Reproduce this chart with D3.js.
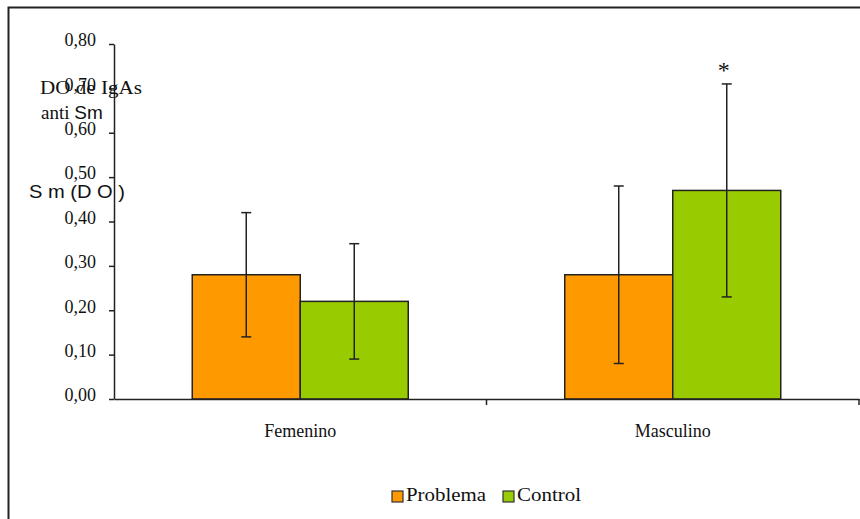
<!DOCTYPE html>
<html>
<head>
<meta charset="utf-8">
<script src="https://cdn.jsdelivr.net/npm/d3@7"></script>
<style>
  body { margin: 0; background: #fff; }
  svg { display: block; }
</style>
</head>
<body>
<svg id="chart" width="860" height="519"></svg>
<script>
const categories = ["Femenino", "Masculino"];
const series = ["Problema", "Control"];
const problemaValues = [0.28, 0.28];
const problemaErrors = [0.14, 0.20];
const controlValues = [0.22, 0.47];
const controlErrors = [0.13, 0.24];
const yTicks = [0, 0.1, 0.2, 0.3, 0.4, 0.5, 0.6, 0.7, 0.8];
const colors = { Problema: "#FF9900", Control: "#99CC00" };

const data = categories.map((c, i) => ({
  category: c,
  values: [
    { series: "Problema", value: problemaValues[i], err: problemaErrors[i] },
    { series: "Control", value: controlValues[i], err: controlErrors[i] }
  ]
}));

const svg = d3.select("#chart");
const SERIF = '"Liberation Serif", "Times New Roman", serif';
const SANS = '"Liberation Sans", Arial, sans-serif';

// outer frame (only top and left visible)
svg.append("rect")
  .attr("x", 8.5).attr("y", 7.5)
  .attr("width", 900).attr("height", 600)
  .attr("fill", "none").attr("stroke", "#222").attr("stroke-width", 2);

const plotLeft = 114, plotRight = 859, plotTop = 44, plotBottom = 399;

const y = d3.scaleLinear().domain([0, 0.8]).range([plotBottom, plotTop]);
const x0 = d3.scaleBand().domain(categories).range([plotLeft, plotRight]).padding(0);
const x1 = d3.scaleBand().domain(series).range([0, x0.bandwidth()])
  .paddingInner(0).paddingOuter(0.7245);

const fmt = v => d3.format(".2f")(v).replace(".", ",");

// y axis
const yAxis = d3.axisLeft(y).tickValues(yTicks).tickFormat(fmt).tickSize(5).tickSizeOuter(0);
const gy = svg.append("g").attr("transform", `translate(${plotLeft},0)`).call(yAxis);
gy.attr("font-family", null).attr("font-size", null);
gy.select(".domain").attr("stroke", "#222").attr("stroke-width", 1.5);
gy.selectAll(".tick line").attr("stroke", "#222").attr("stroke-width", 1.5);
gy.selectAll(".tick text")
  .style("font-family", SERIF).style("font-size", "18px")
  .attr("fill", "#111").attr("x", -18).attr("dy", "0.1em");

// bars
const groups = svg.append("g").selectAll("g").data(data).join("g")
  .attr("transform", d => `translate(${x0(d.category)},0)`);

groups.selectAll("rect").data(d => d.values).join("rect")
  .attr("x", d => x1(d.series))
  .attr("y", d => y(d.value))
  .attr("width", x1.bandwidth())
  .attr("height", d => y(0) - y(d.value))
  .attr("fill", d => colors[d.series])
  .attr("stroke", "#222").attr("stroke-width", 1.5);

// error bars
const eb = groups.selectAll("g.err").data(d => d.values).join("g").attr("class", "err")
  .attr("stroke", "#222").attr("stroke-width", 1.5);
const cx = d => x1(d.series) + x1.bandwidth() / 2;
eb.append("line")
  .attr("x1", cx).attr("x2", cx)
  .attr("y1", d => y(d.value + d.err))
  .attr("y2", d => y(d.value - d.err));
eb.append("line")
  .attr("x1", d => cx(d) - 5).attr("x2", d => cx(d) + 5)
  .attr("y1", d => y(d.value + d.err))
  .attr("y2", d => y(d.value + d.err));
eb.append("line")
  .attr("x1", d => cx(d) - 5).attr("x2", d => cx(d) + 5)
  .attr("y1", d => y(d.value - d.err))
  .attr("y2", d => y(d.value - d.err));

// x axis
const xAxis = d3.axisBottom(x0).tickSize(0).tickSizeOuter(0);
const gx = svg.append("g").attr("transform", `translate(0,${plotBottom})`).call(xAxis);
gx.attr("font-family", null).attr("font-size", null);
gx.select(".domain").attr("stroke", "#222").attr("stroke-width", 1.5);
gx.selectAll(".tick text")
  .style("font-family", SERIF).style("font-size", "18px")
  .attr("fill", "#111").attr("y", 38).attr("dy", 0);
// category separator ticks
const sepPositions = categories.map(c => x0(c) + x0.bandwidth());
svg.append("g").selectAll("line").data(sepPositions).join("line")
  .attr("x1", d => d).attr("x2", d => d)
  .attr("y1", plotBottom).attr("y2", plotBottom + 6)
  .attr("stroke", "#222").attr("stroke-width", 1.5);

// significance asterisk
const mascCtrl = data[1].values[1];
svg.append("text")
  .attr("x", x0("Masculino") + x1("Control") + x1.bandwidth() / 2 - 3)
  .attr("y", y(mascCtrl.value + mascCtrl.err) - 6)
  .attr("text-anchor", "middle")
  .style("font-family", SERIF).style("font-size", "24px")
  .attr("fill", "#111").text("*");

// overlapping axis title texts (as in the original)
svg.append("text").attr("x", 40).attr("y", 94)
  .style("font-family", SERIF).style("font-size", "19px").attr("fill", "#111")
  .attr("textLength", 102).attr("lengthAdjust", "spacingAndGlyphs")
  .text("DO de IgAs");
const t2 = svg.append("text").attr("x", 41).attr("y", 119).attr("fill", "#111");
t2.append("tspan").style("font-family", SERIF).style("font-size", "19px").text("anti ");
t2.append("tspan").style("font-family", SANS).style("font-size", "19px").text("Sm");
svg.append("text").attr("x", 29).attr("y", 198)
  .style("font-family", SANS).style("font-size", "18px").attr("fill", "#111")
  .attr("textLength", 96).attr("lengthAdjust", "spacingAndGlyphs")
  .text("S m (D O )");

// legend
const legend = svg.append("g").attr("transform", "translate(392,491)");
const legItems = [{ s: "Problema", x: 0, w: 80 }, { s: "Control", x: 111, w: 64 }];
const li = legend.selectAll("g").data(legItems).join("g").attr("transform", d => `translate(${d.x},0)`);
li.append("rect").attr("width", 11).attr("height", 11)
  .attr("fill", d => colors[d.s]).attr("stroke", "#333").attr("stroke-width", 1.2);
li.append("text").attr("x", 14).attr("y", 10)
  .style("font-family", SERIF).style("font-size", "19px").attr("fill", "#111")
  .attr("textLength", d => d.w).attr("lengthAdjust", "spacingAndGlyphs")
  .text(d => d.s);
</script>
</body>
</html>
